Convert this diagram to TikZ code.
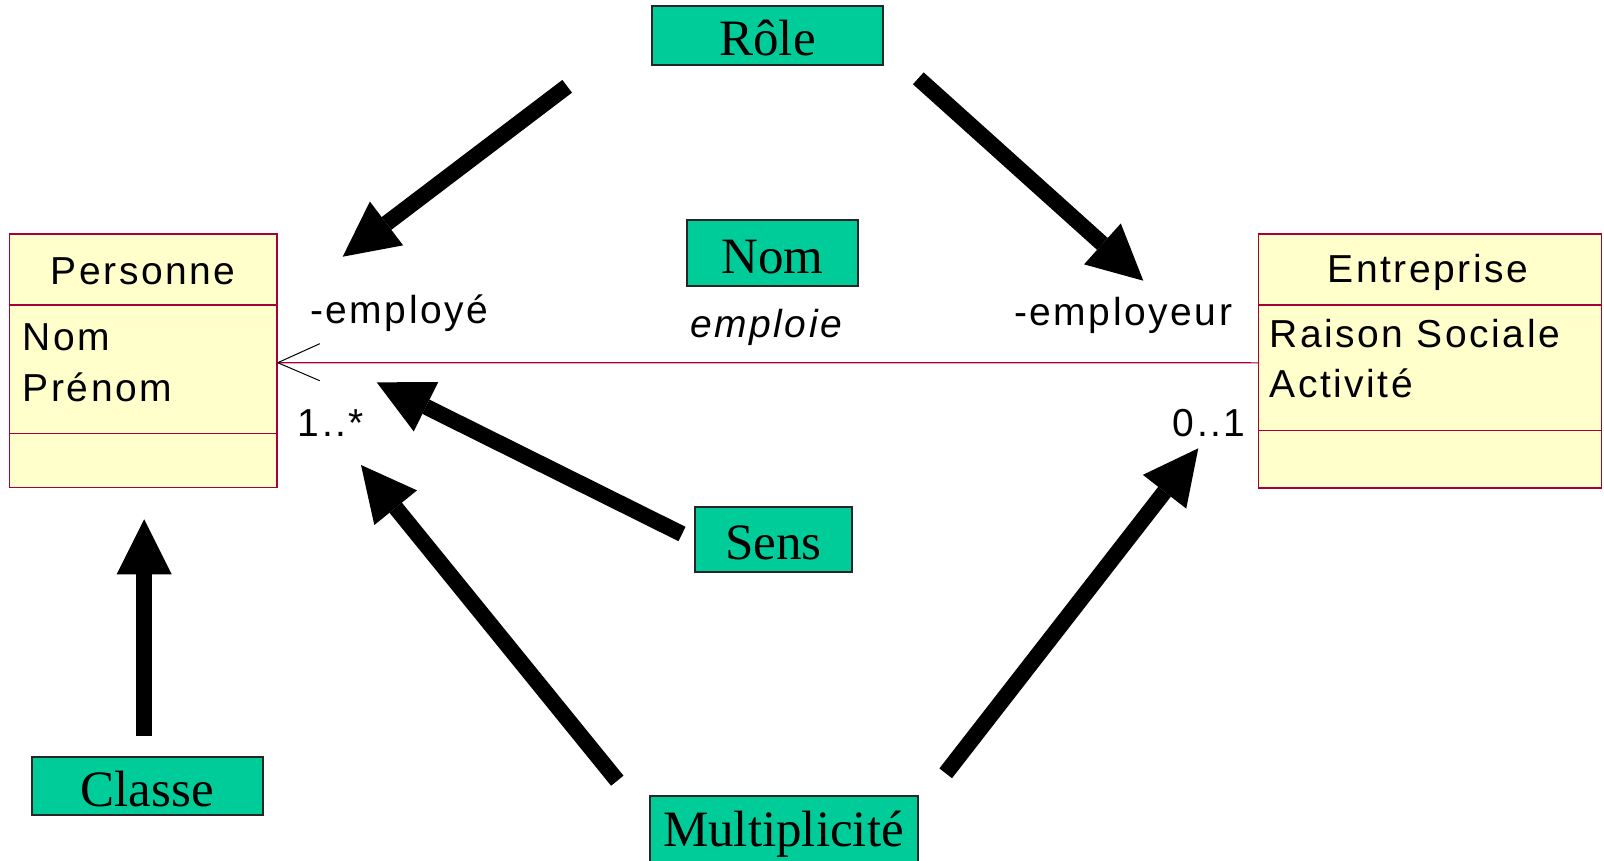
\documentclass[tikz,border=0pt]{standalone}
\usepackage{fontspec}
\setmainfont{Liberation Serif}
\newfontfamily\umlfont{Liberation Sans}[LetterSpace=6.5]
\usetikzlibrary{arrows.meta}
\definecolor{umlline}{RGB}{165,0,55}
\definecolor{umlfill}{RGB}{255,255,204}
\definecolor{tag}{RGB}{0,204,153}

\begin{document}
\begin{tikzpicture}[x=1pt,y=-1pt,
  umlbox/.style={draw=umlline, fill=umlfill, line width=1.5pt, inner sep=0pt},
  umlsep/.style={draw=umlline, line width=1.5pt},
  umltext/.style={font=\umlfont\fontsize{39}{47}\selectfont, inner sep=0pt},
  tagbox/.style={draw=black!85, fill=tag, line width=2pt, inner sep=0pt,
    text height=46pt, text depth=6pt, anchor=base,
    font=\fontsize{51}{60}\selectfont},
  pointer/.style={line width=16pt,
    -{Triangle[length=55pt,width=55pt,line width=0pt]}},
]
\clip (0,0) rectangle (1604,861);

% --- class Personne ---
\node[umlbox, minimum width=267.7pt, minimum height=253.7pt] (pers) at (143.15,360.85) {};
\draw[umlsep] ([yshift=-71.7pt]pers.north west) -- ([yshift=-71.7pt]pers.north east);
\draw[umlsep] ([yshift=-200pt]pers.north west) -- ([yshift=-200pt]pers.north east);
\node[umltext, anchor=base] (persname) at (143.2,284.3) {Personne};
\node[umltext, anchor=base west] (persnom) at (22.7,350.7) {Nom};
\node[umltext, anchor=base west] (persprenom) at (22.7,401.7) {Prénom};

% --- class Entreprise ---
\node[umlbox, minimum width=343pt, minimum height=254pt] (ent) at (1430.2,361) {};
\draw[umlsep] ([yshift=-71.7pt]ent.north west) -- ([yshift=-71.7pt]ent.north east);
\draw[umlsep] ([yshift=-197pt]ent.north west) -- ([yshift=-197pt]ent.north east);
\node[umltext, anchor=base] (entname) at (1428,282.7) {Entreprise};
\node[umltext, anchor=base west] (entraison) at (1269.3,347.7) {Raison Sociale};
\node[umltext, anchor=base west] (entactivite) at (1269.3,397.7) {Activité};

% --- association emploie ---
\draw[draw=umlline, line width=1.2pt] ([yshift=-1.85pt]pers.east) -- ([yshift=-1.85pt]ent.west);
\draw[line width=1pt] ([yshift=-1.85pt]pers.east) ++(42,-19) -- ([yshift=-1.85pt]pers.east) -- ++(42,18);
\node[umltext, anchor=base west] (roleemploye) at (310,323.3) {-employé};
\node[umltext, anchor=base west] (roleemployeur) at (1014,325) {-employeur};
\node[umltext, anchor=base west] (multemploye) at (297.7,436) {1..*};
\node[umltext, anchor=base west] (multemployeur) at (1172.7,436) {0..1};
\node[umltext, anchor=base west, font=\umlfont\itshape\fontsize{39}{47}\selectfont] (assocname) at (690,337) {emploie};

% --- captions ---
\node[tagbox, minimum width=231pt, minimum height=59pt] (role) at (767.5,56) {Rôle};
\node[tagbox, minimum width=171.3pt, minimum height=66pt] (nom) at (772.3,273) {Nom};
\node[tagbox, minimum width=156.4pt, minimum height=65pt] (sens) at (773.4,559.6) {Sens};
\node[tagbox, minimum width=231pt, minimum height=58pt] (classe) at (147.2,806) {Classe};
\node[tagbox, minimum width=268pt, minimum height=70pt, text depth=16pt] (multi) at (783.5,846) {Multiplicité};

% --- pointer ends ---
\coordinate (roleL) at (567.2,86.3);
\coordinate (roleR) at (918.3,78.3);
\coordinate (sensT) at (682,534);
\coordinate (multiL) at (617.3,780.7);
\coordinate (multiR) at (945.7,773.3);
\coordinate (classeT) at (144.2,736);
\coordinate (atEmploye) at (342.7,256.7);
\coordinate (atEmployeur) at (1143.3,280.7);
\coordinate (atSens) at (376.7,382.3);
\coordinate (atMultP) at (361,465);
\coordinate (atMultE) at (1198.3,448.3);
\coordinate (atPers) at (144.2,519.3);

\draw[pointer] (roleL) -- (atEmploye);
\draw[pointer] (roleR) -- (atEmployeur);
\draw[pointer] (sensT) -- (atSens);
\draw[pointer] (multiL) -- (atMultP);
\draw[pointer] (multiR) -- (atMultE);
\draw[pointer] (classeT) -- (atPers);
\end{tikzpicture}
\end{document}
